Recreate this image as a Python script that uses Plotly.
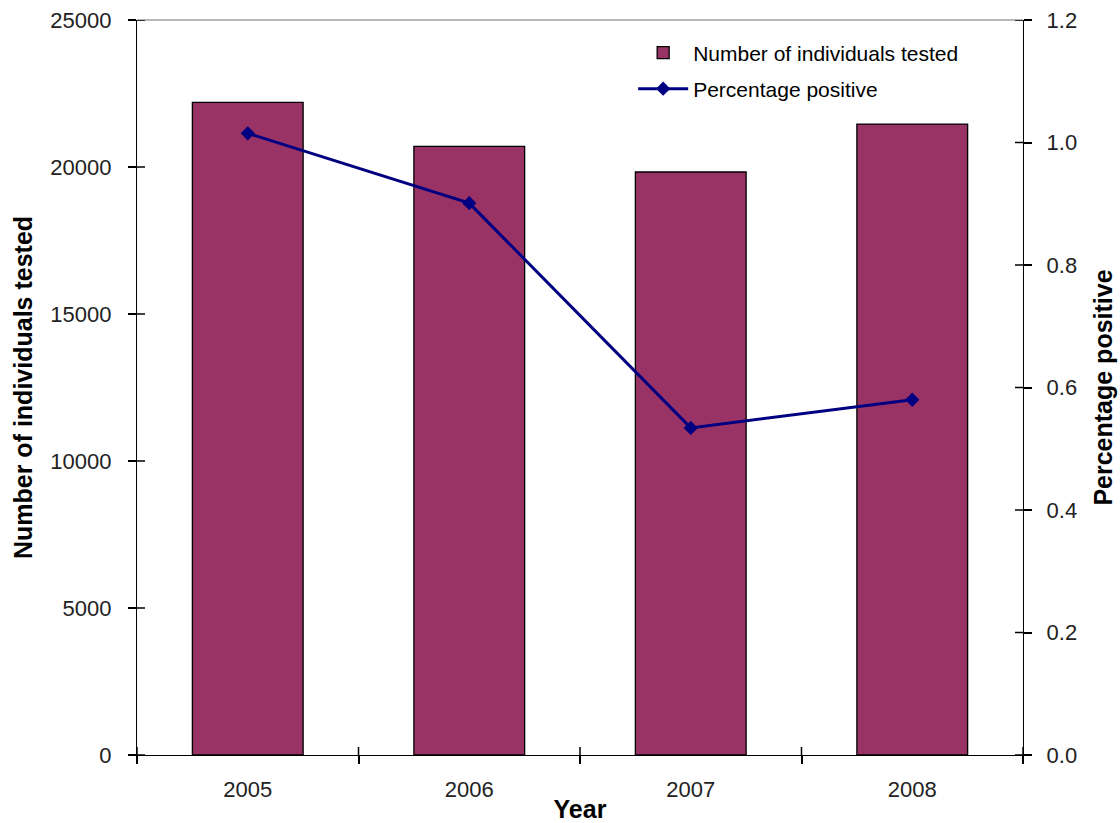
import plotly.graph_objects as go

years = ["2005", "2006", "2007", "2008"]
tested = [22200, 20700, 19830, 21460]
pct_positive = [1.015, 0.901, 0.534, 0.580]

left_ticks = [0, 5000, 10000, 15000, 20000, 25000]
right_ticks = [0.0, 0.2, 0.4, 0.6, 0.8, 1.0, 1.2]

FONT = "Liberation Sans, Arial, sans-serif"
BAR_COLOR = "#993366"
LINE_COLOR = "#000080"

W, H = 1120, 823
M_L, M_R, M_T, M_B = 137, 97, 20, 68
PLOT_W, PLOT_H = W - M_L - M_R, H - M_T - M_B
TICK_IN = 8  # inner half of the crossing tick marks, px
TX = TICK_IN / PLOT_W
TY = TICK_IN / PLOT_H

fig = go.Figure()
fig.add_trace(go.Bar(
    x=years, y=tested, name="Number of individuals tested",
    marker=dict(color=BAR_COLOR, line=dict(color="#000000", width=1.3)),
    legend="legend", yaxis="y",
))
fig.add_trace(go.Scatter(
    x=years, y=pct_positive, name="Percentage positive",
    mode="lines+markers",
    line=dict(color=LINE_COLOR, width=3),
    marker=dict(symbol="diamond", size=11, color=LINE_COLOR),
    yaxis="y2", legend="legend2",
))

tickfont = dict(family=FONT, size=22, color="#222222")
titlefont = dict(family=FONT, size=25, color="#000000", weight="bold")

# inner halves of the crossing tick marks
tick_line = dict(color="#000000", width=1.5)
shapes = [dict(type="line", xref="paper", yref="paper", x0=0, x1=1, y0=1, y1=1,
               line=dict(color="#a0a0a0", width=1.3), layer="above")]
for v in left_ticks:
    shapes.append(dict(type="line", xref="paper", x0=0, x1=TX, yref="y",
                       y0=v, y1=v, line=tick_line, layer="above"))
for v in right_ticks:
    shapes.append(dict(type="line", xref="paper", x0=1 - TX, x1=1, yref="y2",
                       y0=v, y1=v, line=tick_line, layer="above"))
for i in range(len(years) + 1):
    b = i - 0.5
    shapes.append(dict(type="line", xref="x", x0=b, x1=b, yref="paper",
                       y0=0, y1=TY, line=tick_line, layer="above"))

fig.update_layout(
    width=W, height=H,
    margin=dict(l=M_L, r=M_R, t=M_T, b=M_B, autoexpand=False),
    paper_bgcolor="white", plot_bgcolor="white",
    bargap=0.5,
    showlegend=True,
    xaxis=dict(
        type="category", tickson="boundaries", ticks="outside", ticklen=8,
        tickwidth=1.5, tickcolor="#000", showline=True, linecolor="#000",
        linewidth=1.3, tickfont=tickfont, ticklabelstandoff=14, showgrid=False,
        title=dict(text="Year", font=titlefont, standoff=0),
        range=[-0.5, 3.5],
    ),
    yaxis=dict(
        range=[0, 25000], tickvals=left_ticks, tickformat="d", ticks="outside",
        ticklen=8, tickwidth=1.5, tickcolor="#000", showline=True,
        linecolor="#000", linewidth=1.3, tickfont=tickfont, ticklabelstandoff=12,
        showgrid=False, zeroline=False,
        title=dict(text="Number of individuals tested", font=titlefont, standoff=10),
    ),
    yaxis2=dict(
        overlaying="y", side="right", range=[0, 1.2], tickvals=right_ticks,
        tickformat=".1f", ticks="outside", ticklen=8, tickwidth=1.5,
        tickcolor="#000", showline=True, linecolor="#000", linewidth=1.3,
        tickfont=tickfont, ticklabelstandoff=10, showgrid=False, zeroline=False,
        title=dict(text="Percentage positive", font=titlefont, standoff=18),
    ),
    legend=dict(
        x=0.56, y=0.983, xanchor="left", yanchor="top",
        font=dict(family=FONT, size=21, color="#000"), bgcolor="rgba(0,0,0,0)",
        itemwidth=50,
    ),
    legend2=dict(
        x=0.56, y=0.934, xanchor="left", yanchor="top",
        font=dict(family=FONT, size=21, color="#000"), bgcolor="rgba(0,0,0,0)",
        itemwidth=50,
    ),
    shapes=shapes,
)

fig.write_html("out.html")
